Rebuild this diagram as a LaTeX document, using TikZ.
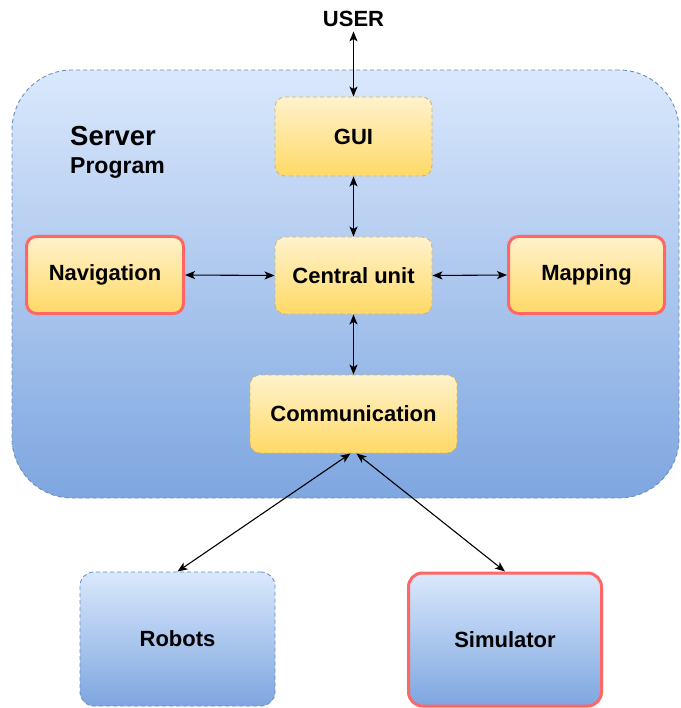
\documentclass[tikz,border=0pt]{standalone}
\usepackage{fontspec}
\setmainfont{Liberation Sans}
\usetikzlibrary{arrows.meta}

\definecolor{blueTop}{HTML}{DAE8FC}
\definecolor{blueBot}{HTML}{7EA6E0}
\definecolor{blueLine}{HTML}{6C8EBF}
\definecolor{yelTop}{HTML}{FFF2CC}
\definecolor{yelBot}{HTML}{FFD966}
\definecolor{yelLine}{HTML}{D6B656}
\definecolor{redLine}{HTML}{FF6666}

\tikzset{
    txt/.style={font=\bfseries\fontsize{22}{25}\selectfont, inner sep=0pt},
    module/.style={txt, rounded corners=10pt, top color=yelTop, bottom color=yelBot},
    coremod/.style={module, draw=yelLine, line width=0.9pt, dash pattern=on 4pt off 3pt},
    plugin/.style={module, draw=redLine, line width=3pt},
    outside/.style={txt, rounded corners=14pt, top color=blueTop, bottom color=blueBot},
    link/.style={{Stealth[length=10pt,width=8pt,inset=2.5pt]}-{Stealth[length=10pt,width=8pt,inset=2.5pt]}, line width=1.1pt}
}

\begin{document}
\begin{tikzpicture}[x=1pt, y=-1pt]
    \useasboundingbox (0,0) rectangle (680,708);
    % Server container
    \node[rounded corners=60pt, top color=blueTop, bottom color=blueBot, draw=blueLine,
          line width=0.9pt, dash pattern=on 4pt off 3pt,
          minimum width=667pt, minimum height=428pt] (server) at (345.5,284) {};
    \node[txt, font=\bfseries\fontsize{27.5}{30}\selectfont, anchor=base west] (srvname) at (70,146) {Server};
    \node[txt, font=\bfseries\fontsize{23}{26}\selectfont, anchor=base west] (srvprog) at (70,174) {Program};
    % User
    \node[txt, anchor=base] (user) at (353.5,27) {USER};
    % Modules inside the server
    \node[coremod, minimum width=157pt, minimum height=79pt] (gui) at (353.5,136.5) {GUI};
    \node[coremod, minimum width=157pt, minimum height=77pt] (central) at (353.5,275.5) {Central unit};
    \node[plugin, minimum width=157pt, minimum height=77pt] (nav) at (105,275) {Navigation};
    \node[plugin, minimum width=156pt, minimum height=77pt] (map) at (586.5,275) {Mapping};
    \node[coremod, minimum width=207pt, minimum height=78pt] (comm) at (353.5,414) {Communication};
    % Outside the server
    \node[outside, draw=blueLine, line width=0.9pt, dash pattern=on 4pt off 3pt,
          minimum width=195pt, minimum height=134pt] (robots) at (177.5,639) {Robots};
    \node[outside, draw=redLine, line width=3pt,
          minimum width=193pt, minimum height=133pt] (sim) at (505,639.5) {Simulator};
    % Links
    \draw[link] ([yshift=-4pt]user.south) -- (gui.north);
    \draw[link] (gui.south) -- (central.north);
    \draw[link] (nav.east) -- (central.west);
    \draw[link] (central.east) -- (map.west);
    \draw[link] (central.south) -- (comm.north);
    \draw[link] ([xshift=-3pt]comm.south) -- (robots.north);
    \draw[link] ([xshift=3pt]comm.south) -- (sim.north);
\end{tikzpicture}
\end{document}
